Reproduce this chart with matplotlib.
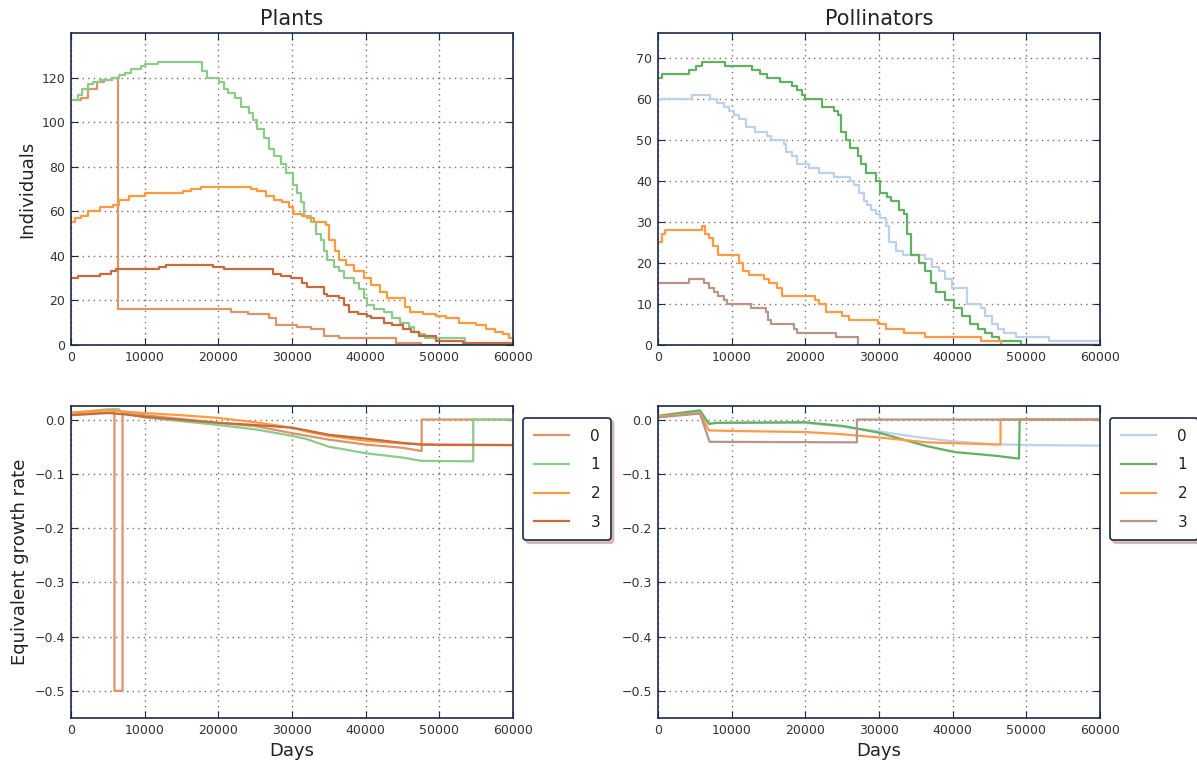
import matplotlib
matplotlib.use("Agg")
import matplotlib.pyplot as plt

labels = ["0", "1", "2", "3"]
x_max = 60000

# ---- Plants: individuals (step data: day where the count changes, new count) ----
pl_days_0 = [0, 1300, 2300, 3500, 4500, 5600, 6400, 21700, 24000, 26900, 27800, 30700, 32600, 34400,
             36400, 44100, 47500]
pl_ind_0 = [110, 111, 115, 118, 119, 120, 16, 15, 14, 12, 9, 8, 7, 4, 3, 1, 0]

pl_days_1 = [0, 1000, 1500, 2300, 3000, 4000, 5500, 6500, 7300, 8200, 9500, 10000, 11800, 17800,
             18500, 20100, 20800, 21300, 22200, 23100, 24200, 24700, 25300, 26200, 26900, 27600,
             28500, 29200, 30100, 30700, 31200, 31600, 32600, 33200, 33900, 34400, 34800, 35700,
             36400, 37100, 38400, 39100, 39800, 40200, 41100, 42500, 43600, 44700, 45900, 46500,
             47200, 48000, 53500]
pl_ind_1 = [110, 112, 115, 117, 118, 119, 120, 121, 122, 124, 125, 126, 127, 123, 120, 118, 115, 113,
            111, 107, 104, 101, 97, 93, 88, 85, 81, 77, 72, 68, 64, 58, 55, 50, 47, 42, 38, 35, 33, 30,
            28, 25, 21, 18, 16, 15, 12, 10, 8, 6, 5, 3, 0]

pl_days_2 = [0, 600, 1400, 2300, 3900, 5700, 6500, 7900, 10000, 15200, 16300, 17700, 24400, 25200,
             26500, 27600, 28700, 29600, 30100, 31400, 32100, 33000, 34600, 35000, 35900, 36400,
             37300, 38400, 39800, 40700, 42000, 42900, 45300, 46000, 47800, 49600, 50900, 52700,
             55000, 56400, 57500, 58600, 59500]
pl_ind_2 = [55, 57, 58, 60, 62, 63, 65, 67, 68, 69, 70, 71, 70, 69, 67, 65, 64, 62, 59, 58, 57, 55, 54,
            47, 42, 38, 36, 33, 30, 27, 24, 21, 17, 15, 14, 13, 12, 10, 9, 7, 6, 5, 3]

pl_days_3 = [0, 1000, 3900, 5400, 6100, 12000, 12900, 19300, 20800, 27400, 28500, 29800, 31400,
             32100, 34400, 34800, 36400, 37100, 37700, 38900, 40200, 40700, 42500, 43600, 45000,
             46100, 47300, 49600, 53200]
pl_ind_3 = [30, 31, 32, 33, 34, 35, 36, 35, 34, 32, 31, 30, 28, 26, 23, 22, 21, 18, 15, 14, 13, 12, 10,
            9, 7, 6, 4, 2, 1]

# ---- Pollinators: individuals (step data) ----
po_days_0 = [0, 4600, 7100, 8000, 8900, 9600, 10300, 11000, 11900, 13200, 14800, 15300, 17100, 17400,
             18200, 18900, 20500, 21900, 23900, 26000, 26600, 27300, 28000, 28400, 28900, 29600,
             30200, 30900, 31400, 32300, 33200, 36300, 37200, 38100, 39000, 39900, 42000, 43800,
             44400, 45300, 46200, 47000, 48600, 53100]
po_ind_0 = [60, 61, 60, 59, 58, 57, 56, 55, 53, 52, 51, 50, 49, 47, 46, 44, 43, 42, 41, 40, 39, 37, 35,
            34, 33, 32, 31, 29, 25, 23, 22, 21, 19, 18, 16, 14, 10, 9, 7, 5, 4, 3, 2, 1]

po_days_1 = [0, 500, 4200, 5100, 6000, 9100, 12700, 13900, 14800, 16600, 18200, 18900, 19600, 20000,
             22300, 23900, 24400, 24800, 25500, 26000, 27100, 27500, 28200, 29600, 30200, 31100,
             31600, 32700, 33400, 33800, 34300, 35400, 36300, 37000, 37700, 39000, 40200, 41300,
             42400, 43500, 44400, 45300, 46300, 49300]
po_ind_1 = [65, 66, 67, 68, 69, 68, 67, 66, 65, 64, 63, 62, 61, 60, 58, 57, 56, 52, 50, 48, 46, 44, 42,
            40, 37, 36, 35, 33, 32, 27, 22, 20, 18, 15, 13, 11, 9, 7, 5, 4, 3, 2, 1, 0]

po_days_2 = [0, 500, 1000, 6000, 6400, 6900, 7400, 8100, 11000, 11600, 12300, 14400, 15100, 16200,
             16900, 21300, 21900, 22800, 25000, 25900, 29800, 30900, 33400, 36300, 43800, 46500]
po_ind_2 = [25, 27, 28, 29, 27, 26, 24, 22, 20, 18, 17, 16, 15, 14, 12, 11, 10, 8, 7, 6, 5, 4, 3, 2, 1, 0]

po_days_3 = [0, 4200, 6200, 6900, 7600, 8200, 8900, 9400, 12600, 14600, 14900, 15300, 18400, 18900,
             24100, 27100]
po_ind_3 = [15, 16, 15, 14, 13, 12, 11, 10, 9, 8, 6, 5, 4, 3, 2, 0]

# ---- Plants: equivalent growth rate ----
pl_gr_days_0 = [0, 5000, 5900, 5900, 7000, 7000, 10000, 20000, 25000, 30000, 35000, 40000, 45000,
                47600, 47600, 60000]
pl_gr_0 = [0.010, 0.013, 0.013, -0.5, -0.5, 0.012, 0.008, -0.006, -0.012, -0.025, -0.037, -0.046,
           -0.052, -0.058, 0.0, 0.0]

pl_gr_days_1 = [0, 5000, 6500, 7000, 10000, 20000, 25000, 30000, 32000, 35000, 40000, 45000, 47500,
                54600, 54600, 60000]
pl_gr_1 = [0.012, 0.019, 0.019, 0.012, 0.004, -0.010, -0.018, -0.030, -0.036, -0.050, -0.062,
           -0.070, -0.076, -0.077, 0.0, 0.0]

pl_gr_days_2 = [0, 5000, 7000, 10000, 15000, 20000, 25000, 30000, 32000, 35000, 40000, 45000, 50000,
                60000]
pl_gr_2 = [0.013, 0.017, 0.015, 0.012, 0.008, 0.003, -0.005, -0.015, -0.022, -0.030, -0.039, -0.044,
           -0.047, -0.047]

pl_gr_days_3 = [0, 5000, 7000, 10000, 20000, 25000, 30000, 32000, 35000, 40000, 45000, 47500, 60000]
pl_gr_3 = [0.008, 0.012, 0.010, 0.005, -0.006, -0.010, -0.015, -0.020, -0.028, -0.035, -0.043,
           -0.046, -0.047]

# ---- Pollinators: equivalent growth rate ----
po_gr_days_0 = [0, 5700, 6900, 20000, 25000, 30000, 35000, 40000, 45000, 50000, 60000]
po_gr_0 = [0.006, 0.014, -0.006, -0.006, -0.013, -0.022, -0.032, -0.040, -0.045, -0.047, -0.048]

po_gr_days_1 = [0, 5700, 6900, 8000, 20000, 25200, 29900, 31800, 34600, 36500, 40300, 43700, 46000,
                49000, 49100, 60000]
po_gr_1 = [0.007, 0.017, -0.008, -0.006, -0.005, -0.012, -0.024, -0.031, -0.042, -0.049, -0.060,
           -0.064, -0.067, -0.072, 0.0, 0.0]

po_gr_days_2 = [0, 5700, 6900, 10000, 20000, 25000, 30000, 36500, 46000, 46500, 46500, 60000]
po_gr_2 = [0.006, 0.012, -0.020, -0.021, -0.023, -0.027, -0.033, -0.042, -0.046, -0.046, 0.0, 0.0]

po_gr_days_3 = [0, 5700, 7000, 27000, 27000, 60000]
po_gr_3 = [0.004, 0.011, -0.041, -0.042, 0.0, 0.0]

plant_colors = ["#dc9468", "#8ccb8c", "#ff9a3e", "#c86a3c"]
poll_colors = ["#bdd1e8", "#62b062", "#ff9a48", "#b8948a"]

spine_color = "#1c2a45"
grid_color = "#8a6a5e"


def style_axes(ax):
    for s in ax.spines.values():
        s.set_color(spine_color)
        s.set_linewidth(1.2)
    ax.tick_params(direction="in", top=True, right=True, length=5, labelsize=9,
                   colors=spine_color, labelcolor="#333333", pad=4)
    ax.grid(True, linestyle=(0, (1, 3)), color=grid_color, linewidth=1.0)
    ax.set_xlim(0, x_max)
    ax.set_xticks(range(0, 60001, 10000))


fig = plt.figure(figsize=(11.97, 7.6), dpi=100)
ax1 = fig.add_axes([71 / 1197, 1 - 345 / 760, 442 / 1197, 312 / 760])
ax2 = fig.add_axes([658 / 1197, 1 - 345 / 760, 442 / 1197, 312 / 760])
ax3 = fig.add_axes([71 / 1197, 1 - 718 / 760, 442 / 1197, 312 / 760])
ax4 = fig.add_axes([658 / 1197, 1 - 718 / 760, 442 / 1197, 312 / 760])

pl_steps = [(pl_days_0, pl_ind_0), (pl_days_1, pl_ind_1), (pl_days_2, pl_ind_2), (pl_days_3, pl_ind_3)]
po_steps = [(po_days_0, po_ind_0), (po_days_1, po_ind_1), (po_days_2, po_ind_2), (po_days_3, po_ind_3)]
pl_gr = [(pl_gr_days_0, pl_gr_0), (pl_gr_days_1, pl_gr_1), (pl_gr_days_2, pl_gr_2), (pl_gr_days_3, pl_gr_3)]
po_gr = [(po_gr_days_0, po_gr_0), (po_gr_days_1, po_gr_1), (po_gr_days_2, po_gr_2), (po_gr_days_3, po_gr_3)]

for (d, v), c in zip(pl_steps, plant_colors):
    ax1.step(d + [x_max], v + [v[-1]], where="post", color=c, lw=1.6)
for (d, v), c in zip(po_steps, poll_colors):
    ax2.step(d + [x_max], v + [v[-1]], where="post", color=c, lw=1.6)
for (d, v), c, lab in zip(pl_gr, plant_colors, labels):
    ax3.plot(d, v, color=c, lw=1.6, label=lab)
for (d, v), c, lab in zip(po_gr, poll_colors, labels):
    ax4.plot(d, v, color=c, lw=1.6, label=lab)

for ax in (ax1, ax2, ax3, ax4):
    style_axes(ax)

ax1.set_ylim(0, 140)
ax1.set_yticks(range(0, 121, 20))
ax2.set_ylim(0, 76)
ax2.set_yticks(range(0, 71, 10))
for ax in (ax3, ax4):
    ax.set_ylim(-0.55, 0.025)
    ax.set_yticks([0.0, -0.1, -0.2, -0.3, -0.4, -0.5])
    ax.set_yticklabels(["0.0", "\u22120.1", "\u22120.2", "\u22120.3", "\u22120.4", "\u22120.5"])

ax1.set_title("Plants", fontsize=15, color="#222222", pad=6)
ax2.set_title("Pollinators", fontsize=15, color="#222222", pad=6)
ax1.set_ylabel("Individuals", fontsize=13, color="#222222")
ax3.set_ylabel("Equivalent growth rate", fontsize=13, color="#222222")
ax3.set_xlabel("Days", fontsize=13, color="#222222")
ax4.set_xlabel("Days", fontsize=13, color="#222222")

for ax in (ax3, ax4):
    leg = ax.legend(loc="upper left", bbox_to_anchor=(1.023, 0.962), fontsize=11, fancybox=True,
                    shadow={"color": "#c49a90", "alpha": 0.6}, handlelength=2.3, borderpad=0.7,
                    labelspacing=0.9, handletextpad=1.4, framealpha=1.0, borderaxespad=0.0)
    leg.get_frame().set_edgecolor(spine_color)
    leg.get_frame().set_linewidth(1.2)
    for t in leg.get_texts():
        t.set_color("#222222")

fig.savefig("out.png", dpi=100)
